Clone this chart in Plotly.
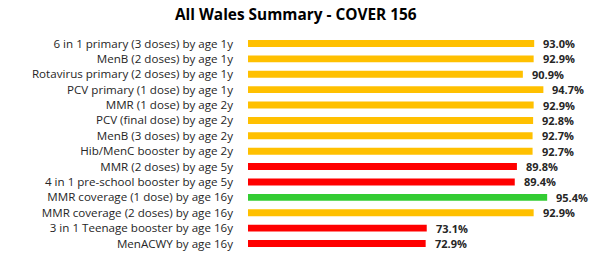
import plotly.graph_objects as go

categories = [
    "6 in 1 primary (3 doses) by age 1y",
    "MenB (2 doses) by age 1y",
    "Rotavirus primary (2 doses) by age 1y",
    "PCV primary (1 dose) by age 1y",
    "MMR (1 dose) by age 2y",
    "PCV (final dose) by age 2y",
    "MenB (3 doses) by age 2y",
    "Hib/MenC booster by age 2y",
    "MMR (2 doses) by age 5y",
    "4 in 1 pre-school booster by age 5y",
    "MMR coverage (1 dose) by age 16y",
    "MMR coverage (2 doses) by age 16y",
    "3 in 1 Teenage booster by age 16y",
    "MenACWY by age 16y",
]
values = [93.0, 92.9, 90.9, 94.7, 92.9, 92.8, 92.7, 92.7, 89.8, 89.4, 95.4, 92.9, 73.1, 72.9]
status = ["amber", "amber", "amber", "amber", "amber", "amber", "amber", "amber",
          "red", "red", "green", "amber", "red", "red"]

palette = {"amber": "#FFC000", "red": "#FF0000", "green": "#33CC33"}
colors = [palette[s] for s in status]

fig = go.Figure(go.Bar(
    y=categories,
    x=values,
    orientation="h",
    marker=dict(color=colors, line=dict(width=0)),
    cliponaxis=False,
))

for cat, v in zip(categories, values):
    fig.add_annotation(
        x=v, y=cat, xref="x", yref="y",
        text=f"<b>{v:.1f}%</b>", showarrow=False,
        xanchor="left", yanchor="middle", xshift=7,
        font=dict(family="Open Sans", size=11, color="#262626"),
    )

fig.update_layout(
    width=600, height=260,
    margin=dict(l=248, r=28, t=34, b=7),
    paper_bgcolor="white", plot_bgcolor="white",
    title=dict(text="<b>All Wales Summary - COVER 156</b>", x=0.493, xanchor="center",
               y=0.945, yanchor="middle",
               font=dict(family="Open Sans", size=15.4, color="#000000")),
    bargap=0.55,
    showlegend=False,
    font=dict(family="Open Sans", size=11.6, color="#262626"),
)
fig.update_xaxes(range=[40, 100], visible=False)
fig.update_yaxes(autorange="reversed", showgrid=False, showline=False, ticks="",
                 ticklabelstandoff=14, tickfont=dict(size=11.6))

fig.write_html("out.html")
